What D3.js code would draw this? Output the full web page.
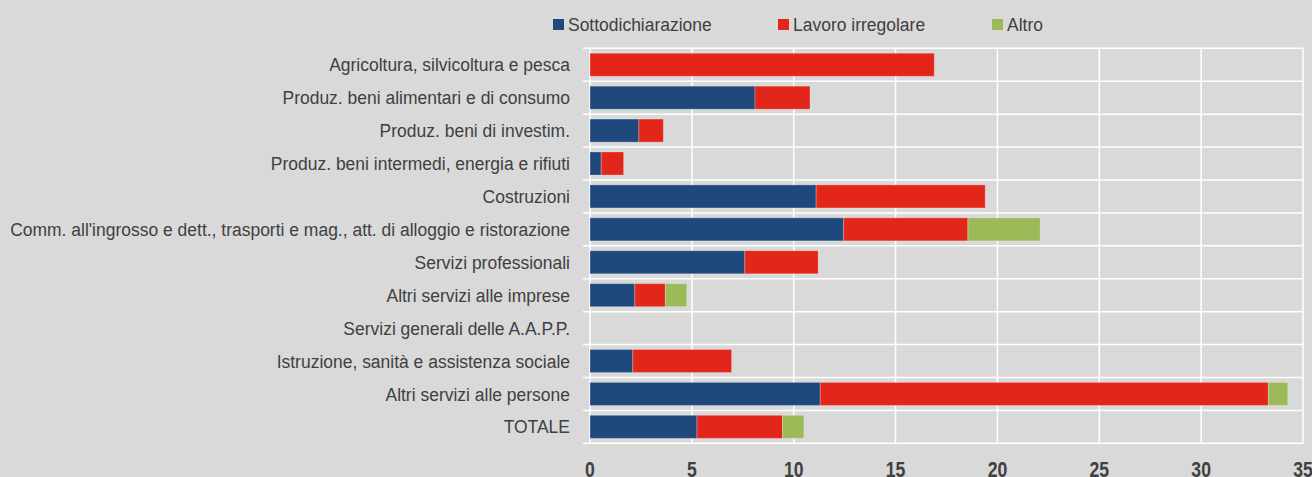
<!DOCTYPE html>
<html>
<head>
<meta charset="utf-8">
<script src="https://cdn.jsdelivr.net/npm/d3@7"></script>
<style>
  html, body { margin: 0; padding: 0; background: #d9d9d9; }
  svg { display: block; }
</style>
</head>
<body>
<svg id="drawing_region"></svg>
<script>
var categories = [
    "Agricoltura, silvicoltura e pesca",
    "Produz. beni alimentari e di consumo",
    "Produz. beni di investim.",
    "Produz. beni intermedi, energia e rifiuti",
    "Costruzioni",
    "Comm. all'ingrosso e dett., trasporti e mag., att. di alloggio e ristorazione",
    "Servizi professionali",
    "Altri servizi alle imprese",
    "Servizi generali delle A.A.P.P.",
    "Istruzione, sanità e assistenza sociale",
    "Altri servizi alle persone",
    "TOTALE"
];
var sottodichiarazione = [0, 8.1, 2.4, 0.55, 11.1, 12.45, 7.6, 2.2, 0, 2.1, 11.3, 5.25];
var lavoroIrregolare   = [16.9, 2.7, 1.2, 1.1, 8.3, 6.1, 3.6, 1.5, 0, 4.85, 22.0, 4.2];
var altro              = [0, 0, 0, 0, 0, 3.55, 0, 1.05, 0, 0, 0.95, 1.05];
var seriesNames = ["Sottodichiarazione", "Lavoro irregolare", "Altro"];
var seriesColors = ["#1f497d", "#e3261a", "#9bbb59"];
var xTicks = [0, 5, 10, 15, 20, 25, 30, 35];

var config = {
    width: 1312,
    height: 477,
    left: 590,
    right: 1303,
    top: 48.3,
    bottom: 443.3
};

var svg = d3.select('#drawing_region')
    .attr('width', config.width)
    .attr('height', config.height);

svg.append('rect')
    .attr('width', config.width)
    .attr('height', config.height)
    .attr('fill', '#d9d9d9');

var rows = categories.map(function(c, i) {
    return { cat: c, s: sottodichiarazione[i], l: lavoroIrregolare[i], a: altro[i] };
});

var x = d3.scaleLinear().domain([0, 35]).range([config.left, config.right]);
var y = d3.scaleBand().domain(categories).range([config.top, config.bottom])
    .paddingInner(0.3).paddingOuter(0.15);

// no narrow font installed: squeeze horizontally instead
var font = "'Liberation Sans', Arial, sans-serif";
var squeeze = 0.92;

// vertical grid
svg.append('g').selectAll('line')
    .data(xTicks).enter().append('line')
    .attr('x1', d => x(d)).attr('x2', d => x(d))
    .attr('y1', config.top).attr('y2', config.bottom)
    .attr('stroke', '#ffffff').attr('stroke-width', 1.5);

// horizontal grid at band boundaries
var step = y.step();
var bounds = d3.range(categories.length + 1).map(i => config.top + i * step);
svg.append('g').selectAll('line')
    .data(bounds).enter().append('line')
    .attr('x1', 583).attr('x2', config.right)
    .attr('y1', d => d).attr('y2', d => d)
    .attr('stroke', '#ffffff').attr('stroke-width', 1.5);

// stacked bars
var stack = d3.stack().keys(['s', 'l', 'a']);
var layers = stack(rows);

svg.append('g').selectAll('g')
    .data(layers).enter().append('g')
    .attr('fill', (d, i) => seriesColors[i])
    .selectAll('rect')
    .data(d => d.filter(v => v[1] - v[0] > 0)).enter().append('rect')
    .attr('x', d => x(d[0]))
    .attr('y', d => y(d.data.cat))
    .attr('width', d => x(d[1]) - x(d[0]))
    .attr('height', y.bandwidth())
    .attr('stroke', 'rgba(255,255,255,0.25)')
    .attr('stroke-width', 1);

// category labels
svg.append('g').selectAll('text')
    .data(categories).enter().append('text')
    .attr('transform', d => `translate(570, ${y(d) + y.bandwidth() / 2}) scale(${squeeze}, 1)`)
    .attr('dy', '0.35em')
    .attr('text-anchor', 'end')
    .attr('font-family', font)
    .attr('font-size', '19px')
    .attr('fill', '#404040')
    .text(d => d);

// x tick labels
svg.append('g').selectAll('text')
    .data(xTicks).enter().append('text')
    .attr('transform', d => `translate(${x(d)}, 477) scale(0.8, 1)`)
    .attr('text-anchor', 'middle')
    .attr('font-family', font)
    .attr('font-weight', 'bold')
    .attr('font-size', '22px')
    .attr('fill', '#404040')
    .text(d => d);

// legend
var legendX = [553, 778, 992];
var legend = svg.append('g').selectAll('g')
    .data(seriesNames).enter().append('g')
    .attr('transform', (d, i) => `translate(${legendX[i]}, 19)`);
legend.append('rect')
    .attr('width', 11).attr('height', 11)
    .attr('fill', (d, i) => seriesColors[i]);
legend.append('text')
    .attr('transform', `translate(15, 5.5) scale(${squeeze}, 1)`)
    .attr('dy', '0.35em')
    .attr('font-family', font)
    .attr('font-size', '19px')
    .attr('fill', '#404040')
    .text(d => d);
</script>
</body>
</html>
